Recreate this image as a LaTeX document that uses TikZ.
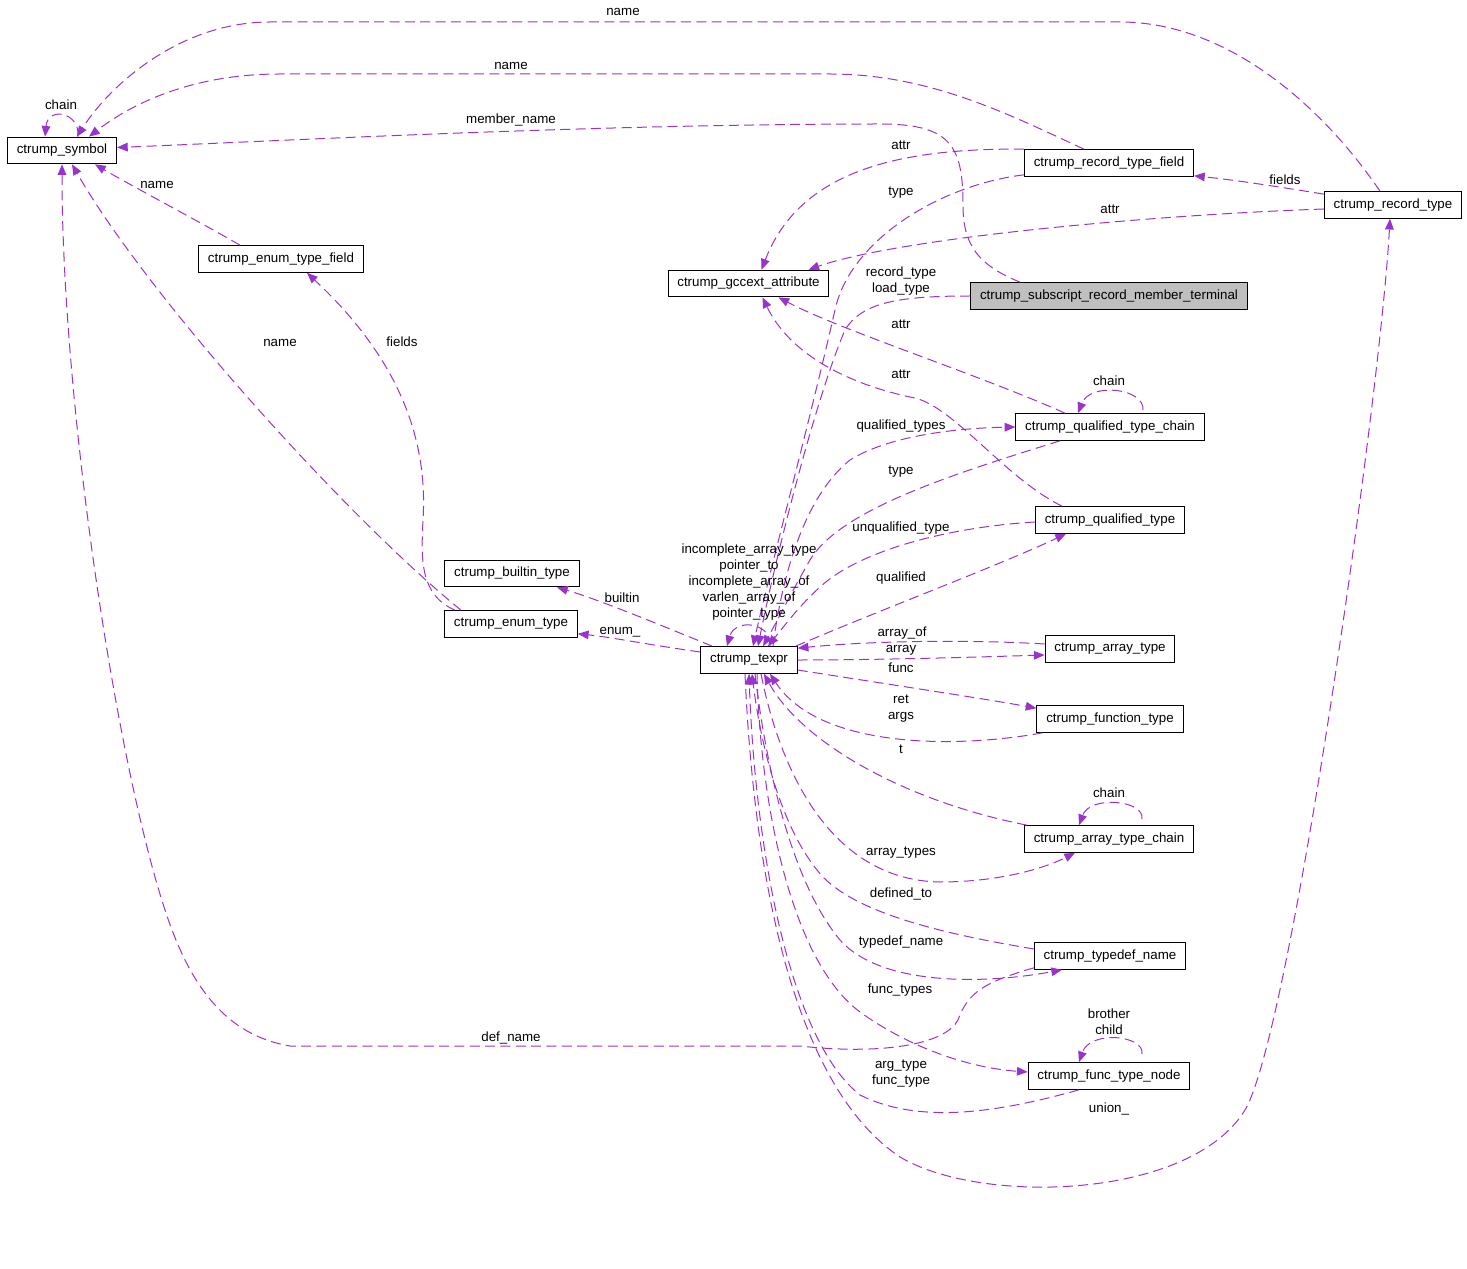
\documentclass[tikz,border=0pt]{standalone}
\usepackage{fontspec}
\setmainfont{Liberation Sans}
\usetikzlibrary{arrows.meta,calc}
\definecolor{collpurple}{HTML}{9A32CD}
\definecolor{termgray}{HTML}{BFBFBF}

\begin{document}
\begin{tikzpicture}
[x=0.75pt,y=-0.75pt,
 cls/.style={draw,line width=0.75pt,minimum height=20pt,inner xsep=7pt,inner ysep=0pt,font=\fontsize{10}{12}\selectfont},
 memb/.style={draw=collpurple,line width=0.75pt,dash pattern=on 7.5pt off 4pt,-{Triangle[length=8pt,width=6.5pt]}},
 lbl/.style={font=\fontsize{10}{12}\selectfont,align=center,inner sep=0pt}]
\useasboundingbox (0,0) rectangle (1467,1269);
\node[cls] (sym) at (62,150.5) {ctrump\_symbol};
\node[cls] (etf) at (281,259) {ctrump\_enum\_type\_field};
\node[cls] (gcc) at (748.5,283.5) {ctrump\_gccext\_attribute};
\node[cls] (rtf) at (1109,163) {ctrump\_record\_type\_field};
\node[cls] (rectype) at (1393,205) {ctrump\_record\_type};
\node[cls,fill=termgray] (term) at (1109,296) {ctrump\_subscript\_record\_member\_terminal};
\node[cls] (qtc) at (1110,427) {ctrump\_qualified\_type\_chain};
\node[cls] (qt) at (1110,520) {ctrump\_qualified\_type};
\node[cls] (builtin) at (512,573.5) {ctrump\_builtin\_type};
\node[cls] (enumt) at (511,624) {ctrump\_enum\_type};
\node[cls] (texpr) at (749,660) {ctrump\_texpr};
\node[cls] (arrt) at (1110,649) {ctrump\_array\_type};
\node[cls] (funct) at (1110,719) {ctrump\_function\_type};
\node[cls] (atc) at (1109,839) {ctrump\_array\_type\_chain};
\node[cls] (typn) at (1110,956) {ctrump\_typedef\_name};
\node[cls] (ftn) at (1109,1076) {ctrump\_func\_type\_node};

\draw[memb] ($(sym.north)+(16,0)$) .. controls (80,112) and (48,106) .. ($(sym.north)+(-17,0)$);
\draw[memb] ($(rectype.north)+(-13,0)$) .. controls (1325,110) and (1230,22) .. (1120,22) -- (270,22) .. controls (180,22) and (110,85) .. ($(sym.north)+(15,0)$);
\draw[memb] ($(rtf.north)+(-25,0)$) .. controls (1010,115) and (930,74) .. (830,74) -- (280,74) .. controls (190,74) and (130,105) .. ($(sym.north)+(27,0)$);
\draw[memb] ($(term.north)+(-89,0)$) .. controls (978,265) and (963,245) .. (963,205) .. controls (963,145) and (950,124) .. (880,124) .. controls (600,124) and (300,140) .. ($(sym.east)+(0,-3)$);
\draw[memb] ($(etf.north)+(-41,0)$) .. controls (200,222) and (130,185) .. ($(sym.south)+(33,0)$);
\draw[memb] ($(enumt.north)+(-50,0)$) .. controls (350,520) and (150,300) .. ($(sym.south)+(10,0)$);
\draw[memb] ($(typn.south west)+(0,-2)$) .. controls (985,982) and (968,992) .. (958,1020) .. controls (945,1045) and (880,1055) .. (800,1046) -- (290,1046) .. controls (225,1035) and (190,985) .. (166,913) .. controls (115,760) and (62,400) .. (sym.south);
\draw[memb] ($(enumt.north)+(-56,0)$) .. controls (420,595) and (421,560) .. (423,520) .. controls (428,440) and (400,360) .. ($(etf.south)+(26,0)$);
\draw[memb] (rtf.north west) .. controls (900,148) and (800,170) .. ($(gcc.north)+(13,0)$);
\draw[memb] ($(rectype.west)+(0,4)$) .. controls (1150,215) and (900,238) .. ($(gcc.north)+(60,0)$);
\draw[memb] ($(qtc.north)+(-45,0)$) .. controls (980,375) and (840,330) .. ($(gcc.south)+(30,0)$);
\draw[memb] ($(qt.north)+(-48,0)$) .. controls (1005,478) and (955,408) .. (915,398) .. controls (850,385) and (790,355) .. ($(gcc.south)+(14,0)$);
\draw[memb] ($(rectype.north west)+(0,3)$) .. controls (1280,187) and (1235,180) .. ($(rtf.south east)+(0,-1)$);
\draw[memb] ($(rtf.south west)+(0,-2)$) .. controls (940,185) and (850,240) .. (835,310) .. controls (810,420) and (770,570) .. ($(texpr.north)+(4,0)$);
\draw[memb] (term.west) .. controls (900,296) and (862,302) .. (845,330) .. controls (815,400) and (775,560) .. ($(texpr.north)+(9,0)$);
\draw[memb] ($(qtc.north)+(33,-3)$) .. controls (1145,388) and (1090,382) .. ($(qtc.north)+(-32,0)$);
\draw[memb] ($(texpr.north)+(24,0)$) .. controls (780,590) and (800,500) .. (850,460) .. controls (890,435) and (960,428) .. (qtc.west);
\draw[memb] ($(qtc.south)+(-50,0)$) .. controls (950,475) and (840,510) .. (810,560) .. controls (790,595) and (775,625) .. ($(texpr.north)+(14,0)$);
\draw[memb] ($(qt.west)+(0,2)$) .. controls (950,527) and (860,550) .. (820,587) .. controls (800,605) and (785,625) .. ($(texpr.north)+(19,0)$);
\draw[memb] ($(texpr.north east)+(-2,0)$) .. controls (880,610) and (1000,565) .. ($(qt.south)+(-44,0)$);
\draw[memb] ($(texpr.north)+(21,0)$) .. controls (772,622) and (735,618) .. ($(texpr.north)+(-22,0)$);
\draw[memb] ($(texpr.north west)+(12,0)$) .. controls (660,625) and (600,600) .. ($(builtin.south)+(45,0)$);
\draw[memb] ($(texpr.west)+(0,-8)$) .. controls (650,645) and (610,637) .. ($(enumt.south east)+(0,-4)$);
\draw[memb] ($(arrt.west)+(0,-5)$) .. controls (980,640) and (880,640) .. ($(texpr.north east)+(0,2)$);
\draw[memb] (texpr.east) .. controls (880,660) and (980,657) .. ($(arrt.west)+(0,6)$);
\draw[memb] ($(texpr.east)+(0,10)$) .. controls (880,683) and (980,698) .. ($(funct.north west)+(0,3)$);
\draw[memb] ($(funct.south west)+(6,0)$) .. controls (960,748) and (820,750) .. ($(texpr.south)+(21,0)$);
\draw[memb] ($(atc.north west)+(3,0)$) .. controls (900,800) and (800,740) .. ($(texpr.south)+(15,0)$);
\draw[memb] ($(atc.north)+(33,-6)$) .. controls (1145,800) and (1090,795) .. ($(atc.north)+(-30,0)$);
\draw[memb] ($(texpr.south)+(12,0)$) .. controls (780,770) and (830,880) .. (940,882) .. controls (1000,882) and (1045,868) .. ($(atc.south)+(-34,0)$);
\draw[memb] ($(typn.west)+(0,-7)$) .. controls (950,935) and (860,915) .. (823,877) .. controls (780,830) and (760,740) .. ($(texpr.south)+(3,0)$);
\draw[memb] ($(texpr.south)+(6,0)$) .. controls (765,760) and (790,880) .. (840,940) .. controls (880,985) and (980,985) .. ($(typn.south)+(-48,0)$);
\draw[memb] ($(texpr.south)+(8,0)$) .. controls (760,800) and (790,960) .. (860,1012) .. controls (910,1048) and (970,1068) .. ($(ftn.west)+(0,-4)$);
\draw[memb] ($(ftn.north)+(33,-8)$) .. controls (1145,1035) and (1090,1030) .. ($(ftn.north)+(-30,0)$);
\draw[memb] ($(ftn.south)+(-30,0)$) .. controls (1000,1112) and (920,1125) .. (860,1095) .. controls (790,1040) and (755,850) .. (texpr.south);
\draw[memb] ($(texpr.south)+(-4,0)$) .. controls (755,900) and (800,1090) .. (900,1157) .. controls (980,1205) and (1190,1200) .. (1245,1110) .. controls (1290,1035) and (1380,400) .. ($(rectype.south)+(-3,0)$);

\node[lbl] (l1) at (61,105) {chain};
\node[lbl] (l2) at (623,12) {name};
\node[lbl] (l3) at (511,66) {name};
\node[lbl] (l4) at (511,120) {member\_name};
\node[lbl] (l5) at (157,185) {name};
\node[lbl] (l6) at (280,343) {name};
\node[lbl] (l7) at (402,342) {fields};
\node[lbl] (l8) at (901,145) {attr};
\node[lbl] (l9) at (901,193) {type};
\node[lbl] (l10) at (1285,180) {fields};
\node[lbl] (l11) at (1110,209) {attr};
\node[lbl] (l12) at (901,281) {record\_type\\load\_type};
\node[lbl] (l13) at (901,324) {attr};
\node[lbl] (l14) at (901,374) {attr};
\node[lbl] (l15) at (1109,381) {chain};
\node[lbl] (l16) at (901,426) {qualified\_types};
\node[lbl] (l17) at (901,472) {type};
\node[lbl] (l18) at (901,528) {unqualified\_type};
\node[lbl] (l19) at (901,578) {qualified};
\node[lbl] (l20) at (749,582) {incomplete\_array\_type\\pointer\_to\\incomplete\_array\_of\\varlen\_array\_of\\pointer\_type};
\node[lbl] (l21) at (622,598) {builtin};
\node[lbl] (l22) at (620,632) {enum\_};
\node[lbl] (l23) at (902,633) {array\_of};
\node[lbl] (l24) at (901,650) {array};
\node[lbl] (l25) at (901,668) {func};
\node[lbl] (l26) at (901,709) {ret\\args};
\node[lbl] (l27) at (901,749) {t};
\node[lbl] (l28) at (1109,793) {chain};
\node[lbl] (l29) at (901,853) {array\_types};
\node[lbl] (l30) at (901,894) {defined\_to};
\node[lbl] (l31) at (901,942) {typedef\_name};
\node[lbl] (l32) at (900,990) {func\_types};
\node[lbl] (l33) at (1109,1022) {brother\\child};
\node[lbl] (l34) at (901,1074) {arg\_type\\func\_type};
\node[lbl] (l35) at (1109,1109) {union\_};
\node[lbl] (l36) at (511,1038) {def\_name};
\end{tikzpicture}
\end{document}
